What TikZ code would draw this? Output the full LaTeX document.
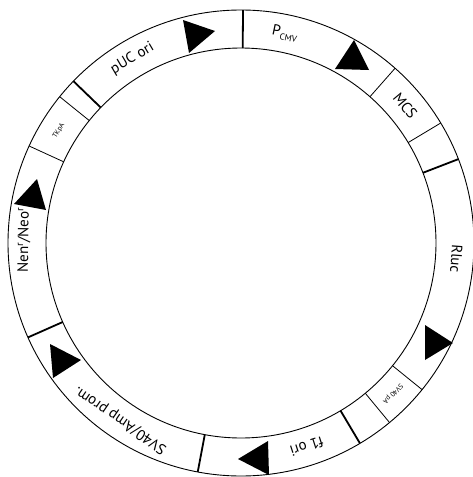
\documentclass[tikz,border=0pt]{standalone}
\usepackage{fontspec}
\setmainfont{PT Sans}
\begin{document}
\begin{tikzpicture}[x=1pt,y=1pt,
  ring/.style={line width=0.9pt},
  thindiv/.style={line width=0.8pt},
  thickdiv/.style={line width=1.8pt},
  lab/.style={font=\fontsize{15}{17}\selectfont, inner sep=0pt},
  smalllab/.style={font=\fontsize{7}{8}\selectfont, inner sep=0pt},
  tri/.style={fill=black, draw=none}]
\useasboundingbox (0,0) rectangle (473,-477);
\coordinate (C) at (241,-243);
\begin{scope}[shift={(241,-243)}]
  \draw[ring] (0,0) circle (233);
  \draw[ring] (0,0) circle (195);
  % dividers
  \draw[thickdiv] (89.5:195) -- (89.5:233);
  \draw[thindiv] (48.6:195) -- (48.6:233);
  \draw[thindiv] (31.0:195) -- (31.0:233);
  \draw[thickdiv] (21.1:195) -- (21.1:233);
  \draw[thindiv] (-39.0:195) -- (-39.0:233);
  \draw[thindiv] (-50.4:195) -- (-50.4:233);
  \draw[thickdiv] (-59.3:195) -- (-59.3:233);
  \draw[thickdiv] (259.3:195) -- (259.3:233);
  \draw[thickdiv] (203.9:195) -- (203.9:233);
  \draw[thindiv] (155.4:195) -- (155.4:233);
  \draw[thindiv] (141.1:195) -- (141.1:233);
  \draw[thickdiv] (136.0:195) -- (136.0:233);
  % labels
  \node[lab, rotate=30.5] (puc) at (120.5:214) {pUC ori};
  \node[lab, rotate=-11.8] (pcmv) at (78.2:214) {P\raisebox{-0.35ex}{\fontsize{9}{10}\selectfont CMV}};
  \node[lab, rotate=-50.1] (mcs) at (39.9:214) {MCS};
  \node[lab, rotate=-94.2] (rluc) at (-4.2:216) {Rluc};
  \node[smalllab, rotate=-134.8] (svpa) at (-44.8:214) {SV40 pA};
  \node[lab, rotate=-162.1] (f1) at (-72.1:214) {f1 ori};
  \node[lab, rotate=145.8] (svamp) at (235.8:214) {SV40/Amp prom.};
  \node[lab, rotate=89.2] (neo) at (179.2:217) {Nen\textsuperscript{r}/Neo\textsuperscript{r}};
  \node[smalllab, rotate=58.4] (tkpa) at (148.4:214) {TKpA};
\end{scope}
% arrow triangles (image pixel coordinates, y down)
\fill[tri] (183,-20) -- (189,-53) -- (215,-31) -- cycle;
\fill[tri] (354,-40) -- (335,-69) -- (369,-70) -- cycle;
\fill[tri] (425,-325) -- (425,-360) -- (453,-343) -- cycle;
\fill[tri] (238,-459) -- (268,-441) -- (269,-475) -- cycle;
\fill[tri] (50,-344) -- (53,-378) -- (81,-360) -- cycle;
\fill[tri] (37,-179) -- (14,-204) -- (46,-210) -- cycle;
\end{tikzpicture}
\end{document}
